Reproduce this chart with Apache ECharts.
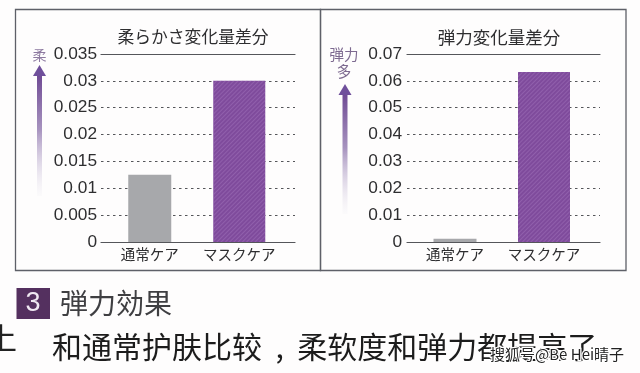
<!DOCTYPE html>
<html>
<head>
<meta charset="utf-8">
<style>
html, body { margin: 0; padding: 0; background: #fefdfd; }
#main { width: 640px; height: 373px; }
</style>
<script src="https://cdn.jsdelivr.net/npm/echarts@6/dist/echarts.min.js"></script>
</head>
<body>
<div id="main"></div>
<script>
const categories = ["通常ケア", "マスクケア"];
const softValues = [0.0125, 0.03];
const elasticValues = [0.0012, 0.0633];
const softTitle = "柔らかさ変化量差分";
const elasticTitle = "弾力変化量差分";
const heading = "弾力効果";
const caption = "和通常护肤比较  ,  柔软度和弹力都提高了";
const watermark = "搜狐号@Be Hei晴子";

const jp = '"Noto Sans CJK JP", sans-serif';
const cn = '"Noto Sans CJK SC", sans-serif';
const num = '"Liberation Sans", sans-serif';
const hatch = {
  symbol: "rect", color: "rgba(170,125,195,0.4)", dashArrayX: [1, 0],
  dashArrayY: [1, 2], rotation: -Math.PI / 4
};

// one panel uses a lines grid + a bars grid, each bar on its own x axis so widths can differ
function panel(o, grid, xAxis, yAxis, series) {
  const g0 = grid.length;
  grid.push({ left: o.lineLeft, width: o.lineWidth, top: 54, height: 188 });
  grid.push({ left: o.barLeft, width: o.barSpan, top: 54, height: 188 });

  const x0 = xAxis.length, y0 = yAxis.length;
  const line = { show: true, onZero: false, lineStyle: { color: "#55565a", width: 1.2 } };
  const off = { show: false };
  // solid rule at top and bottom of the lines grid
  xAxis.push({ gridIndex: g0, type: "category", data: categories, position: "top",
    axisLine: line, axisTick: off, axisLabel: off });
  xAxis.push({ gridIndex: g0, type: "category", data: categories, position: "bottom",
    axisLine: line, axisTick: off, axisLabel: off });
  // bars, labels only on the first one
  xAxis.push({ gridIndex: g0 + 1, type: "category", data: categories, position: "bottom",
    axisLine: off, axisTick: off,
    axisLabel: { interval: 0, margin: 4, fontFamily: jp, fontSize: 14.5, color: "#2e2e30", lineHeight: 16 } });
  xAxis.push({ gridIndex: g0 + 1, type: "category", data: categories, position: "bottom",
    axisLine: off, axisTick: off, axisLabel: off });

  yAxis.push({ gridIndex: g0, type: "value", min: 0, max: o.max, interval: o.step,
    axisLine: off, axisTick: off,
    axisLabel: { margin: o.labelGap, fontFamily: num, fontSize: 17.3, color: "#2e2e30" },
    splitLine: { show: true, showMinLine: false, showMaxLine: false,
      lineStyle: { color: "#55565a", width: 1.2, type: [2.5, 3.5] } } });
  yAxis.push({ gridIndex: g0 + 1, type: "value", min: 0, max: o.max, interval: o.step, show: false });

  series.push({ type: "bar", xAxisIndex: x0 + 2, yAxisIndex: y0 + 1, barWidth: 43, silent: true,
    data: [o.values[0], null], itemStyle: { color: "#a7a8ab" }, z: 3 });
  series.push({ type: "bar", xAxisIndex: x0 + 3, yAxisIndex: y0 + 1, barWidth: 52, silent: true,
    data: [null, o.values[1]], itemStyle: { color: "#7f4b9c", decal: hatch }, z: 3 });
}

const grid = [], xAxis = [], yAxis = [], series = [];
panel({ lineLeft: 101, lineWidth: 194, barLeft: 105, barSpan: 179, max: 0.035, step: 0.005,
  values: softValues, labelGap: 4 }, grid, xAxis, yAxis, series);
panel({ lineLeft: 407, lineWidth: 193, barLeft: 410.5, barSpan: 178, max: 0.07, step: 0.01,
  values: elasticValues, labelGap: 5 }, grid, xAxis, yAxis, series);

function arrow(x, top, bottom) {
  return [
    { type: "rect", shape: { x: x - 2.5, y: top + 10, width: 5, height: bottom - top - 10 },
      style: { fill: new echarts.graphic.LinearGradient(0, 0, 0, 1, [
        { offset: 0, color: "#6f4a94" }, { offset: 0.45, color: "#a793bf" }, { offset: 1, color: "rgba(240,238,244,0.2)" }
      ]) } },
    { type: "polygon", shape: { points: [[x, top], [x + 6.5, top + 11], [x - 6.5, top + 11]] },
      style: { fill: "#6f4f9b" } }
  ];
}
function text(x, y, str, size, color, family, align) {
  return { type: "text", x: x, y: y, z: 20,
    style: { text: str, fontSize: size, fill: color, fontFamily: family, align: align || "left", verticalAlign: "middle" } };
}

const frame = { fill: "none", stroke: "#5e6068", lineWidth: 1.3 };
const graphics = [
  { type: "rect", shape: { x: 15.5, y: 9.5, width: 305, height: 261 }, style: frame },
  { type: "rect", shape: { x: 320.5, y: 9.5, width: 305.5, height: 261 }, style: frame },
  ...arrow(39.5, 65, 196),
  ...arrow(345, 84, 214),
  text(39.5, 55, "柔", 14, "#8d7aa0", jp, "center"),
  text(344, 54, "弾力", 14.5, "#7d6a90", jp, "center"),
  text(344, 71, "多", 14.5, "#7d6a90", jp, "center"),
  { type: "rect", shape: { x: 16.5, y: 288, width: 33.5, height: 31 }, style: { fill: "#54305f" } },
  text(33, 304, "3", 27, "#f0e8f2", num, "center"),
  text(60, 303, heading, 28, "#3f3f42", cn),
  text(-13, 338, "上", 30, "#222", cn),
  text(52, 347, caption, 30, "#1c1c1c", cn),
  { type: "text", x: 490, y: 354, z: 21,
    style: { text: watermark, fontSize: 15, fill: "#222", stroke: "#fff", lineWidth: 2.5,
      fontFamily: cn, verticalAlign: "middle" } }
];

const chart = echarts.init(document.getElementById("main"), null, { renderer: "canvas" });
chart.setOption({
  animation: false,
  backgroundColor: "#fefdfd",
  title: [
    { text: softTitle, left: 193, top: 26, textAlign: "center", padding: 0,
      textStyle: { fontFamily: jp, fontSize: 16.8, fontWeight: "normal", color: "#2e2e30", lineHeight: 22 } },
    { text: elasticTitle, left: 499, top: 26, textAlign: "center", padding: 0,
      textStyle: { fontFamily: jp, fontSize: 17.5, fontWeight: "normal", color: "#2e2e30", lineHeight: 22 } }
  ],
  grid: grid,
  xAxis: xAxis,
  yAxis: yAxis,
  series: series,
  graphic: { elements: graphics }
});
</script>
</body>
</html>
